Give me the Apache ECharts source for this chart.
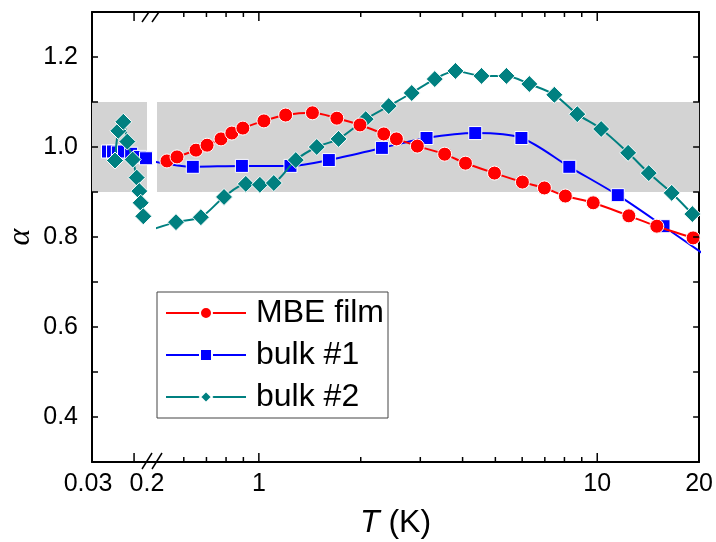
<!DOCTYPE html>
<html><head><meta charset="utf-8">
<script src="https://cdn.jsdelivr.net/npm/echarts@6/dist/echarts.min.js"></script>
<style>html,body{margin:0;padding:0;background:#fff}#c{width:716px;height:542px}</style>
</head><body><div id="c"></div>
<script>
// ---- data ----
const seriesNames = ['MBE film', 'bulk #1', 'bulk #2'];

// right (log) segment, T in K
const mbeT = [0.535,0.573,0.652,0.703,0.773,0.832,0.897,1.035,1.20,1.44,1.70,1.99,2.34,2.55,2.94,3.54,4.08,4.97,6.01,6.98,8.05,9.73,12.4,15.0,19.2];
const mbeA = [0.969,0.978,0.993,1.004,1.018,1.031,1.042,1.058,1.071,1.076,1.064,1.049,1.029,1.018,1.002,0.984,0.964,0.942,0.922,0.909,0.891,0.876,0.847,0.824,0.798];

const bulk1T = [0.45,0.638,0.891,1.24,1.61,2.31,3.13,4.36,5.97,8.27,11.5,15.7,22.7];
const bulk1A = [0.973,0.956,0.958,0.958,0.971,0.998,1.020,1.031,1.020,0.956,0.893,0.824,0.740];

const bulk2T = [0.45,0.569,0.674,0.789,0.915,1.007,1.107,1.286,1.483,1.72,2.07,2.42,2.83,3.31,3.81,4.55,5.39,6.30,7.47,8.73,10.27,12.34,14.2,16.6,19.1];
const bulk2A = [0.809,0.833,0.844,0.889,0.918,0.916,0.920,0.971,1.000,1.018,1.062,1.091,1.120,1.151,1.169,1.158,1.158,1.140,1.116,1.073,1.040,0.987,0.942,0.898,0.851];

// left (low-T) segment
const bulk1LowT = [0.0795,0.095,0.110,0.129,0.151,0.178,0.197];
const bulk1LowA = [0.990,0.990,0.988,0.990,0.985,0.978,0.975];
const bulk2LowT = [0.1011,0.1113,0.1268,0.1391,0.1558,0.1682,0.1762,0.1805,0.1886];
const bulk2LowA = [0.970,1.036,1.056,1.012,0.972,0.932,0.902,0.876,0.846];

// axis ticks / labels
const lowRange = [0.03, 0.2];          // labelled at both ends
const lowTickVals = [0.16];
const majorTickVals = [1, 10];
const minorTickVals = [0.6,0.7,0.8,0.9,2,3,4,5,6,7,8,9];
const logRange = [0.5, 20];
const logLabelVals = [1, 10, 20];
const yTickVals = [0.4,0.5,0.6,0.7,0.8,0.9,1.0,1.1,1.2];
const bandRange = [0.9, 1.1];
const Y_MIN = 0.3, Y_MAX = 1.3, Y_STEP = 0.1;

const colors = {'MBE film':'#ff0000','bulk #1':'#0000ff','bulk #2':'#008080'};
const symbols = {'MBE film':['circle',14],'bulk #1':['rect',13],'bulk #2':['diamond',17]};
const FONT = 'Liberation Sans, Arial, sans-serif';

function zip(a,b){return a.map((v,i)=>[v,b[i]]);}
function mkSeries(name, xi, yi, data, z){
  return {
    name, type:'line', xAxisIndex:xi, yAxisIndex:yi, data, smooth:0.3,
    symbol:symbols[name][0], symbolSize:symbols[name][1], showSymbol:true,
    lineStyle:{color:colors[name], width:2},
    itemStyle:{color:colors[name], borderColor:'#fff', borderWidth:1},
    clip:true, z, animation:false
  };
}
const axLine = {show:true, onZero:false, lineStyle:{color:'#000', width:2}};
const labelBase = {fontSize:25, fontFamily:FONT, color:'#000', margin:10};
function near(v, list){ return list.some(u => Math.abs(v-u) < 1e-6*Math.max(1,u)); }

const option = {
  animation:false,
  backgroundColor:'#fff',
  title:{text:'{i|T} (K)', left:355, top:502,
    textStyle:{fontSize:32, fontFamily:FONT, fontWeight:'normal', color:'#000',
      rich:{i:{fontStyle:'italic', fontSize:32, fontFamily:FONT, color:'#000'}}}},
  grid:[{left:92, top:12, width:55, height:450}, {left:157, top:12, width:543, height:450}],
  xAxis:[
    {gridIndex:0, type:'value', min:lowRange[0], max:lowRange[1], interval:lowRange[1]-lowRange[0], position:'bottom',
     axisLine:axLine, axisTick:{show:false}, splitLine:{show:false},
     axisLabel:Object.assign({}, labelBase, {showMinLabel:true, showMaxLabel:true,
       formatter: v => { const s = String(+(+v).toFixed(2)); return near(v, [lowRange[0]]) ? '{l|' + s + '}' : s; },
       rich:{l:{fontSize:25, fontFamily:FONT, color:'#000', padding:[0,8,0,0]}}})},
    {gridIndex:0, type:'value', min:lowRange[0], max:lowRange[1], position:'top',
     axisLine:axLine, axisTick:{show:false}, axisLabel:{show:false}, splitLine:{show:false}},
    {gridIndex:1, type:'log', logBase:10, min:logRange[0], max:logRange[1], position:'bottom',
     axisLine:axLine, axisTick:{show:false}, splitLine:{show:false}, minorTick:{show:false},
     axisLabel:Object.assign({}, labelBase, {showMinLabel:true, showMaxLabel:true,
       formatter: v => near(v, logLabelVals) ? String(Math.round(v)) : ''})},
    {gridIndex:1, type:'log', logBase:10, min:logRange[0], max:logRange[1], position:'top',
     axisLine:axLine, axisTick:{show:false}, axisLabel:{show:false}, splitLine:{show:false}, minorTick:{show:false}}
  ],
  yAxis:[
    {gridIndex:0, type:'value', min:Y_MIN, max:Y_MAX, interval:Y_STEP, position:'left', axisLine:axLine,
     axisTick:{show:false}, splitLine:{show:false},
     axisLabel:{fontSize:25, fontFamily:FONT, color:'#000', margin:14,
        formatter: v => { const k = Math.round(v*10); return k%2===0 ? (k/10).toFixed(1) : ''; }},
     name:'α', nameLocation:'middle', nameGap:55,
     nameTextStyle:{fontSize:32, fontStyle:'italic', fontFamily:'Liberation Serif, serif', color:'#000'}},
    {gridIndex:1, type:'value', min:Y_MIN, max:Y_MAX, interval:Y_STEP, position:'right', axisLine:axLine,
     axisTick:{show:false}, splitLine:{show:false}, axisLabel:{show:false}}
  ],
  legend:{
    data:seriesNames, orient:'vertical', left:157, top:292, padding:[5,4,5,8], itemGap:10,
    itemWidth:80, itemHeight:15, borderColor:'#444', borderWidth:1, selectedMode:false,
    textStyle:{fontSize:32, fontFamily:FONT, color:'#000', padding:[0,0,0,5]}
  },
  series:[
    {type:'line', xAxisIndex:0, yAxisIndex:0, data:[], z:-1, silent:true,
     markArea:{silent:true, itemStyle:{color:'#d3d3d3'}, data:[[{yAxis:bandRange[0]},{yAxis:bandRange[1]}]]}},
    {type:'line', xAxisIndex:2, yAxisIndex:1, data:[], z:-1, silent:true,
     markArea:{silent:true, itemStyle:{color:'#d3d3d3'}, data:[[{yAxis:bandRange[0]},{yAxis:bandRange[1]}]]}},
    mkSeries('bulk #1',0,0,zip(bulk1LowT,bulk1LowA),3),
    mkSeries('bulk #2',0,0,zip(bulk2LowT,bulk2LowA),4),
    mkSeries('bulk #1',2,1,zip(bulk1T,bulk1A),3),
    mkSeries('bulk #2',2,1,zip(bulk2T,bulk2A),4),
    mkSeries('MBE film',2,1,zip(mbeT,mbeA),5)
  ]
};
const chart = echarts.init(document.getElementById('c'), null, {renderer:'canvas'});
chart.setOption(option);

// ---- ticks and axis break, positioned through the chart's own scales ----
const g = [];
const tickStyle = {stroke:'#000', lineWidth:1.5};
function seg(x1,y1,x2,y2,w){ g.push({type:'line', z:100, silent:true, shape:{x1,y1,x2,y2}, style:{stroke:'#000', lineWidth:w||1.5}}); }
function xTicks(xi, yi, vals, len){
  vals.forEach(v => {
    const b = chart.convertToPixel({xAxisIndex:xi, yAxisIndex:yi}, [v, Y_MIN]);
    const t = chart.convertToPixel({xAxisIndex:xi, yAxisIndex:yi}, [v, Y_MAX]);
    if (b && t) { seg(b[0], b[1], b[0], b[1]-len); seg(t[0], t[1], t[0], t[1]+len); }
  });
}
try {
  xTicks(0, 0, lowTickVals, 9);
  xTicks(2, 1, majorTickVals, 9);
  xTicks(2, 1, minorTickVals, 5);
  yTickVals.forEach(v => {
    const l = chart.convertToPixel({xAxisIndex:0, yAxisIndex:0}, [lowRange[0], v]);
    const r = chart.convertToPixel({xAxisIndex:2, yAxisIndex:1}, [logRange[1], v]);
    if (l) seg(l[0], l[1], l[0]+6, l[1]);
    if (r) seg(r[0], r[1], r[0]-6, r[1]);
  });
  // axis break between the two segments
  const lb = chart.convertToPixel({xAxisIndex:0, yAxisIndex:0}, [lowRange[1], Y_MIN]);
  const rb = chart.convertToPixel({xAxisIndex:2, yAxisIndex:1}, [logRange[0], Y_MIN]);
  const lt = chart.convertToPixel({xAxisIndex:0, yAxisIndex:0}, [lowRange[1], Y_MAX]);
  const rt = chart.convertToPixel({xAxisIndex:2, yAxisIndex:1}, [logRange[0], Y_MAX]);
  seg(lb[0], lb[1], rb[0], rb[1], 2);
  seg(lt[0], lt[1], rt[0], rt[1], 2);
  const m = (lb[0] + rb[0]) / 2;
  seg(m-10, lb[1]+7, m, lb[1]-9); seg(m, lb[1]+7, m+10, lb[1]-9);
  seg(m-10, lt[1]+10, m-3, lt[1]); seg(m, lt[1]+10, m+7, lt[1]);
} catch (e) { console.error(e); }
chart.setOption({graphic:{elements:g}});
</script></body></html>
